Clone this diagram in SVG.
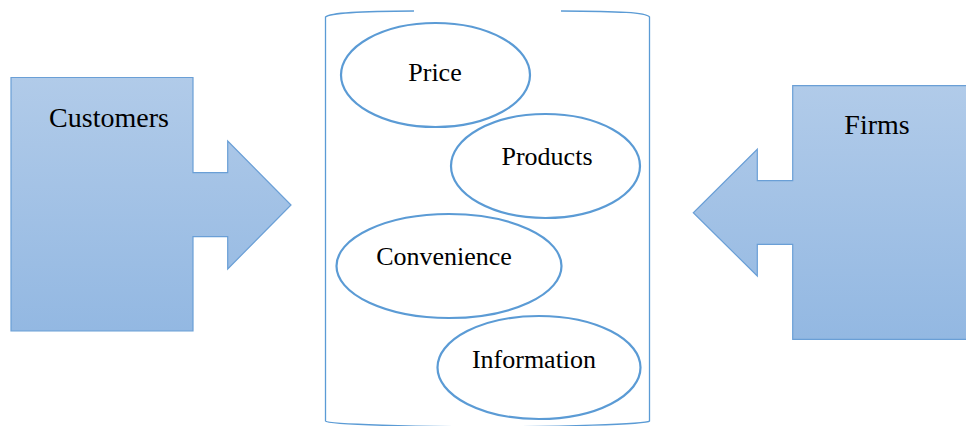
<svg xmlns="http://www.w3.org/2000/svg" width="966" height="426" viewBox="0 0 966 426">
  <defs>
    <linearGradient id="blueFill" x1="0" y1="0" x2="0" y2="1">
      <stop offset="0" stop-color="#b1cbe9"/>
      <stop offset="1" stop-color="#93b8e2"/>
    </linearGradient>
  </defs>
  <style>
    .arrow { fill: url(#blueFill); stroke: #6a9fd6; stroke-width: 1.2; }
    .item { fill: #ffffff; stroke: #5b9bd5; stroke-width: 2.2; }
    .can { fill: none; stroke: #5b9bd5; stroke-width: 1.3; }
  </style>

  <rect width="966" height="426" fill="#ffffff"/>

  <!-- container outline, open at the top middle -->
  <g id="market">
    <path class="can" d="M414,11 C360,11.3 330,12.5 325.5,17 V421 C327,424.5 420,426.5 487,427 C555,426.5 647,424.5 649.5,421 V17 C646,12.5 620,11.3 561,11"/>
  </g>

  <!-- left block arrow -->
  <g id="customers">
    <path class="arrow" d="M11,77.5 H193 V172.7 H227.7 V141 L291,205 L227.7,269 V236.7 H193 V331 H11 Z"/>
    <text x="109" y="127.3" font-size="28" text-anchor="middle" style="font-family: 'Liberation Serif', 'Times New Roman', serif">Customers</text>
  </g>

  <!-- right block arrow -->
  <g id="firms">
    <path class="arrow" d="M966,85.7 H792.7 V180.7 H757.3 V149.3 L693.3,212.7 L757.3,276 V244.3 H792.7 V339.3 H966"/>
    <text x="877" y="134.3" font-size="28" text-anchor="middle" style="font-family: 'Liberation Serif', 'Times New Roman', serif">Firms</text>
  </g>

  <g id="price">
    <ellipse class="item" cx="435.5" cy="75" rx="94.5" ry="52"/>
    <text x="435" y="80.7" font-size="26" text-anchor="middle" style="font-family: 'Liberation Serif', 'Times New Roman', serif">Price</text>
  </g>

  <g id="products">
    <ellipse class="item" cx="545.5" cy="166" rx="94.5" ry="52"/>
    <text x="547" y="165" font-size="26" text-anchor="middle" style="font-family: 'Liberation Serif', 'Times New Roman', serif">Products</text>
  </g>

  <g id="convenience">
    <ellipse class="item" cx="449" cy="266" rx="112.5" ry="52"/>
    <text x="444" y="265" font-size="26" text-anchor="middle" style="font-family: 'Liberation Serif', 'Times New Roman', serif">Convenience</text>
  </g>

  <g id="information">
    <ellipse class="item" cx="539" cy="367.5" rx="101.5" ry="51.5"/>
    <text x="534" y="367.7" font-size="26" text-anchor="middle" style="font-family: 'Liberation Serif', 'Times New Roman', serif">Information</text>
  </g>

  <g id="connectors"></g>
</svg>
